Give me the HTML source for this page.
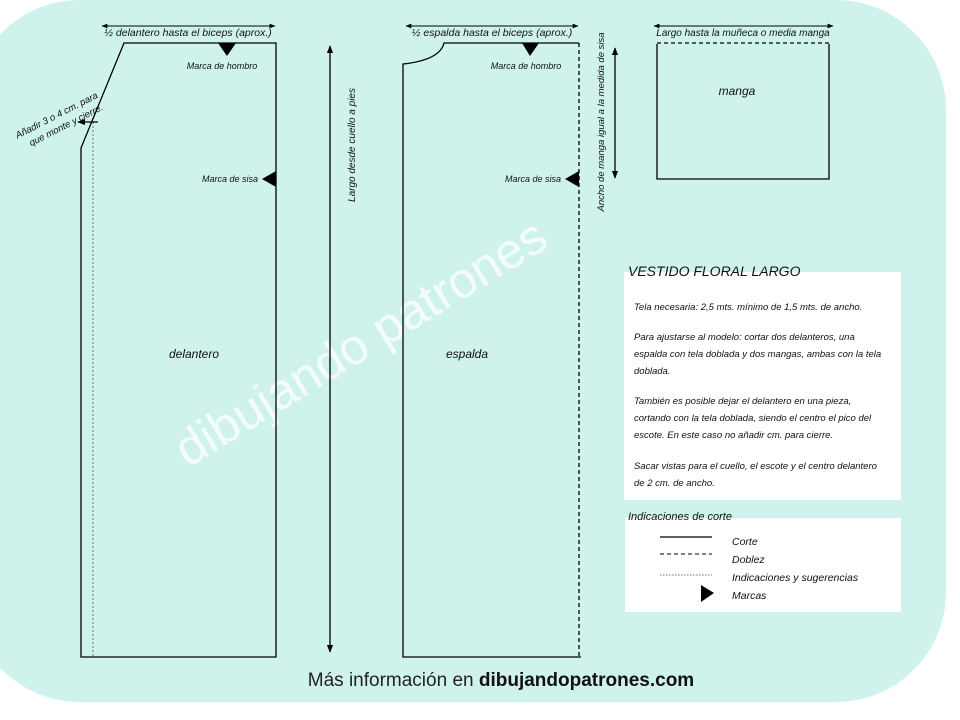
<!DOCTYPE html>
<html><head><meta charset="utf-8"><style>
html,body{margin:0;padding:0;background:#fff;}
svg{display:block;}
text{font-family:"Liberation Sans",sans-serif;font-style:italic;fill:#111;}
</style></head><body>
<svg width="960" height="720" viewBox="0 0 960 720" xmlns="http://www.w3.org/2000/svg">
<defs>
<marker id="a" viewBox="0 0 10 10" refX="9" refY="5" markerWidth="6" markerHeight="6" orient="auto-start-reverse"><path d="M0,1 L10,5 L0,9 z" fill="#000"/></marker>
</defs>
<rect x="-30" y="0" width="976" height="702" rx="110" fill="#cff3ec"/>
<!-- watermark -->
<text x="0" y="0" transform="translate(188,468) rotate(-31.5)" font-size="50" style="font-style:normal;fill:#fff;opacity:0.75">dibujando patrones</text>

<g stroke="#000" fill="none" stroke-width="1.3">
<path d="M124,43 L276,43 L276,657 L81,657 L81,148 Z"/>
<line x1="93" y1="122" x2="93" y2="657" stroke-dasharray="2,2" stroke-width="0.8" stroke="#555"/>
<line x1="78" y1="122" x2="98" y2="122" marker-start="url(#a)"/>
<line x1="102" y1="26" x2="275" y2="26" marker-start="url(#a)" marker-end="url(#a)" stroke-width="1"/>
<line x1="330" y1="46" x2="330" y2="652" marker-start="url(#a)" marker-end="url(#a)"/>
<path d="M579,43 L444,43 Q440,60 403,64 L403,657 L581,657"/>
<line x1="579" y1="43" x2="579" y2="657" stroke-dasharray="4,3"/>
<line x1="406" y1="26" x2="578" y2="26" marker-start="url(#a)" marker-end="url(#a)" stroke-width="1"/>
<line x1="615" y1="48" x2="615" y2="178" marker-start="url(#a)" marker-end="url(#a)"/>
<path d="M657,44 L657,179 L829,179 L829,44"/>
<line x1="657" y1="43" x2="829" y2="43" stroke-dasharray="4,3"/>
<line x1="654" y1="26" x2="833" y2="26" marker-start="url(#a)" marker-end="url(#a)" stroke-width="1"/>
</g>
<g fill="#000">
<path d="M218,43 L236,43 L227,56 Z"/>
<path d="M262,179 L276,171 L276,187 Z"/>
<path d="M522,43 L539,43 L530,56 Z"/>
<path d="M565,179 L579,171 L579,187 Z"/>
</g>
<text x="188" y="36" font-size="10.5" text-anchor="middle">½ delantero hasta el biceps (aprox.)</text>
<text x="222" y="69" font-size="9" text-anchor="middle">Marca de hombro</text>
<text x="230" y="182" font-size="9" text-anchor="middle">Marca de sisa</text>
<text transform="translate(58,118) rotate(-27)" font-size="9.5" text-anchor="middle"><tspan x="0" y="0">Añadir 3 o 4 cm. para</tspan><tspan x="4" y="13">que monte y cierre.</tspan></text>
<text transform="translate(355,145) rotate(-90)" font-size="10" text-anchor="middle">Largo desde cuello a pies</text>
<text x="194" y="358" font-size="12" text-anchor="middle">delantero</text>
<text x="492" y="36" font-size="10.5" text-anchor="middle">½ espalda hasta el biceps (aprox.)</text>
<text x="526" y="69" font-size="9" text-anchor="middle">Marca de hombro</text>
<text x="533" y="182" font-size="9" text-anchor="middle">Marca de sisa</text>
<text transform="translate(604,122) rotate(-90)" font-size="9.5" text-anchor="middle">Ancho de manga  igual a la medida de sisa</text>
<text x="467" y="358" font-size="12" text-anchor="middle">espalda</text>
<text x="743" y="36" font-size="10" text-anchor="middle">Largo hasta la muñeca o media manga</text>
<text x="737" y="95" font-size="12" text-anchor="middle">manga</text>
<rect x="624" y="272" width="277" height="228" fill="#fff"/>
<text x="628" y="276" font-size="14">VESTIDO FLORAL LARGO</text>
<g font-size="9.5">
<text x="634" y="310">Tela necesaria: 2,5 mts. mínimo de 1,5 mts. de ancho.</text>
<text x="634" y="340">Para ajustarse al modelo: cortar dos delanteros, una</text>
<text x="634" y="357">espalda con tela doblada y dos mangas, ambas con la tela</text>
<text x="634" y="374">doblada.</text>
<text x="634" y="404">También es posible dejar el delantero en una pieza,</text>
<text x="634" y="421">cortando con la tela doblada, siendo el centro el pico del</text>
<text x="634" y="438">escote. En este caso no añadir cm. para cierre.</text>
<text x="634" y="469">Sacar vistas para el cuello, el escote y el centro delantero</text>
<text x="634" y="486">de 2 cm. de ancho.</text>
</g>
<rect x="625" y="518" width="276" height="94" fill="#fff"/>
<text x="628" y="520" font-size="11">Indicaciones de corte</text>
<g stroke="#000">
<line x1="660" y1="537" x2="712" y2="537" stroke-width="1.3"/>
<line x1="660" y1="554" x2="712" y2="554" stroke-dasharray="4,3"/>
<line x1="660" y1="575" x2="712" y2="575" stroke-dasharray="1.5,1.5" stroke-width="0.7" stroke="#444"/>
</g>
<path d="M701,585 L714,593 L701,602 Z" fill="#000"/>
<g font-size="10.5">
<text x="732" y="545">Corte</text>
<text x="732" y="563">Doblez</text>
<text x="732" y="581">Indicaciones y sugerencias</text>
<text x="732" y="599">Marcas</text>
</g>
<text x="501" y="686" font-size="19" text-anchor="middle" style="font-style:normal;fill:#222">Más información en <tspan font-weight="bold" fill="#111">dibujandopatrones.com</tspan></text>
</svg>
</body></html>
